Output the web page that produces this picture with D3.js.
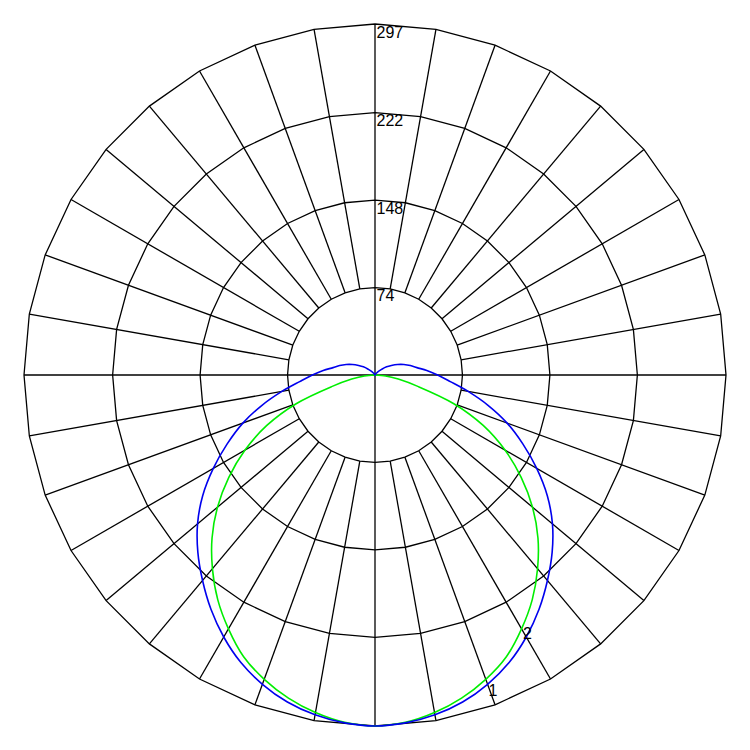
<!DOCTYPE html>
<html>
<head>
<meta charset="utf-8">
<script src="https://cdn.jsdelivr.net/npm/d3@7"></script>
<style>
  body { margin: 0; background: #fff; }
</style>
</head>
<body>
<svg id="chart" width="750" height="750"></svg>
<script>
// angles measured from nadir (straight down), in degrees
const angles = [0, 5, 10, 15, 20, 25, 30, 35, 40, 45, 50, 55, 60, 65, 70, 75, 80, 85, 90,
  95, 100, 105, 110, 115, 120, 125, 130, 135, 140, 145, 150, 155, 160, 165, 170, 175, 180];

const blueValues = [297, 295.5, 292, 286.5, 278.5, 268.5, 256, 242, 227, 212, 196, 178, 158, 138, 119, 99, 80, 64, 53,
  44, 36, 31, 26, 21, 16, 12, 8, 5, 3, 1.5, 0.5, 0, 0, 0, 0, 0, 0];

const greenValues = [297, 295, 290, 283, 274, 263, 248, 232, 214, 195, 174, 151, 127, 101, 71, 38, 20, 9, 0,
  0, 0, 0, 0, 0, 0, 0, 0, 0, 0, 0, 0, 0, 0, 0, 0, 0, 0];

const ringValues = [74, 148, 222, 297];
const ringLabels = ['74', '148', '222', '297'];
const spokeAngles = d3.range(0, 360, 10);

const curveLabels = ['1', '2'];
const curveLabelAngles = [20.5, 30.5];
const curveLabelValues = [285, 254];

const svg = d3.select('#chart');
const cx = 375;
const cy = 375;
const maxValue = 297;

const r = d3.scaleLinear().domain([0, maxValue]).range([0, 351]);
const rad = (deg) => (deg * Math.PI) / 180;

const g = svg.append('g').attr('transform', `translate(${cx},${cy})`);

// rings drawn as polygons through the spokes
const ringLine = d3
  .lineRadial()
  .angle((d) => rad(d))
  .curve(d3.curveLinearClosed);

g.selectAll('.ring')
  .data(ringValues)
  .enter()
  .append('path')
  .attr('class', 'ring')
  .attr('d', (v) => ringLine.radius(r(v))(spokeAngles))
  .attr('fill', 'none')
  .attr('stroke', '#000')
  .attr('stroke-width', 1.3);

// spokes: axes through the centre, others from the inner ring out
g.selectAll('.spoke')
  .data(spokeAngles)
  .enter()
  .append('line')
  .attr('class', 'spoke')
  .attr('x1', (a) => (a % 90 === 0 ? 0 : r(ringValues[0]) * Math.sin(rad(a))))
  .attr('y1', (a) => (a % 90 === 0 ? 0 : -r(ringValues[0]) * Math.cos(rad(a))))
  .attr('x2', (a) => r(maxValue) * Math.sin(rad(a)))
  .attr('y2', (a) => -r(maxValue) * Math.cos(rad(a)))
  .attr('stroke', '#000')
  .attr('stroke-width', 1.3);

// ring labels
g.selectAll('.ring-label')
  .data(ringValues)
  .enter()
  .append('text')
  .attr('class', 'ring-label')
  .attr('x', 1.5)
  .attr('y', (v) => -r(v) + 13.5)
  .attr('font-family', 'Liberation Sans, Arial, sans-serif')
  .attr('font-size', '16px')
  .attr('fill', '#000')
  .text((v, i) => ringLabels[i]);

// build the closed curve: right half then mirrored left half
function curvePoints(values) {
  const pts = angles.map((t, i) => [Math.PI - rad(t), r(values[i])]);
  for (let i = angles.length - 2; i > 0; i--) {
    pts.push([Math.PI + rad(angles[i]), r(values[i])]);
  }
  return pts;
}

const curveLine = d3
  .lineRadial()
  .angle((d) => d[0])
  .radius((d) => d[1])
  .curve(d3.curveCatmullRomClosed.alpha(0.5));

g.append('path')
  .attr('d', curveLine(curvePoints(greenValues)))
  .attr('fill', 'none')
  .attr('stroke', '#00ee00')
  .attr('stroke-width', 1.6);

g.append('path')
  .attr('d', curveLine(curvePoints(blueValues)))
  .attr('fill', 'none')
  .attr('stroke', '#0000ee')
  .attr('stroke-width', 1.6);

// curve numbers
g.selectAll('.curve-label')
  .data(curveLabels)
  .enter()
  .append('text')
  .attr('class', 'curve-label')
  .attr('x', (d, i) => r(curveLabelValues[i]) * Math.sin(rad(curveLabelAngles[i])))
  .attr('y', (d, i) => r(curveLabelValues[i]) * Math.cos(rad(curveLabelAngles[i])))
  .attr('text-anchor', 'middle')
  .attr('dominant-baseline', 'central')
  .attr('font-family', 'Liberation Sans, Arial, sans-serif')
  .attr('font-size', '16px')
  .attr('fill', '#000')
  .text((d) => d);
</script>
</body>
</html>
